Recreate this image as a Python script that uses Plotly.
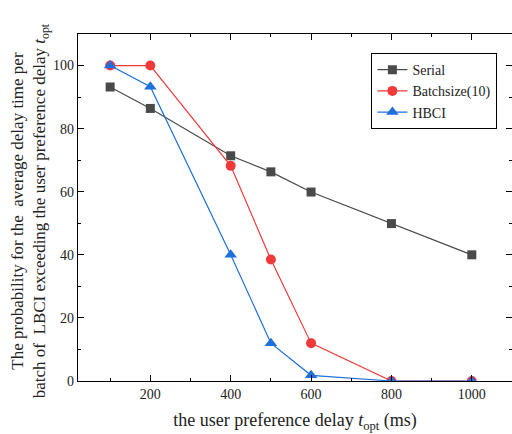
import plotly.graph_objects as go

x_vals = [100, 200, 400, 500, 600, 800, 1000]
serial = [93.2, 86.4, 71.4, 66.3, 59.9, 49.9, 40.0]
batch10 = [100.0, 100.0, 68.2, 38.5, 12.0, 0.0, 0.0]
hbci = [100.0, 93.3, 40.0, 12.0, 1.8, 0.0, 0.0]

x_ticks = [200, 400, 600, 800, 1000]
y_ticks = [0, 20, 40, 60, 80, 100]

FONT = "Liberation Serif, Times New Roman, serif"

fig = go.Figure()
fig.add_trace(go.Scatter(x=x_vals, y=serial, name="Serial", mode="lines+markers",
                         line=dict(color="#4a4a4a", width=1.2),
                         marker=dict(symbol="square", size=9, color="#4a4a4a")))
fig.add_trace(go.Scatter(x=x_vals, y=batch10, name="Batchsize(10)", mode="lines+markers",
                         line=dict(color="#f03a3a", width=1.2),
                         marker=dict(symbol="circle", size=10, color="#f03a3a")))
fig.add_trace(go.Scatter(x=x_vals, y=hbci, name="HBCI", mode="lines+markers",
                         line=dict(color="#1f6fdc", width=1.2),
                         marker=dict(symbol="triangle-up", size=11, color="#1f6fdc")))

axis_common = dict(showline=True, linecolor="black", linewidth=1.2, mirror="ticks",
                   ticks="inside", ticklen=6, tickcolor="black", showgrid=False,
                   zeroline=False, tickfont=dict(family=FONT, size=14, color="#222"))

fig.update_xaxes(range=[20, 1100], tickvals=x_ticks,
                 minor=dict(dtick=100, tick0=0, ticks="inside", ticklen=3, tickcolor="black"),
                 title=dict(text="the user preference delay <i>t</i><sub>opt</sub> (ms)",
                            font=dict(family=FONT, size=18, color="#222"), standoff=12),
                 **axis_common)
fig.update_yaxes(range=[0, 110], tickvals=y_ticks,
                 minor=dict(dtick=10, tick0=0, ticks="inside", ticklen=3, tickcolor="black"),
                 **axis_common)

fig.add_annotation(text="The probability for the  average delay time per<br>batch of  LBCI exceeding the user preference delay <i>t</i><sub>opt</sub>",
                   xref="paper", yref="paper", x=-0.11, y=0.49, xanchor="center", yanchor="middle",
                   textangle=-90, showarrow=False,
                   font=dict(family=FONT, size=17, color="#222"))

fig.update_layout(width=512, height=434, margin=dict(l=78, r=0, t=34, b=53),
                  plot_bgcolor="white", paper_bgcolor="white",
                  showlegend=True,
                  legend=dict(x=0.676, y=0.945, xanchor="left", yanchor="top",
                              bordercolor="black", borderwidth=1, bgcolor="white",
                              font=dict(family=FONT, size=14, color="#222"),
                              tracegroupgap=0, itemwidth=30))

fig.write_html("out.html")
